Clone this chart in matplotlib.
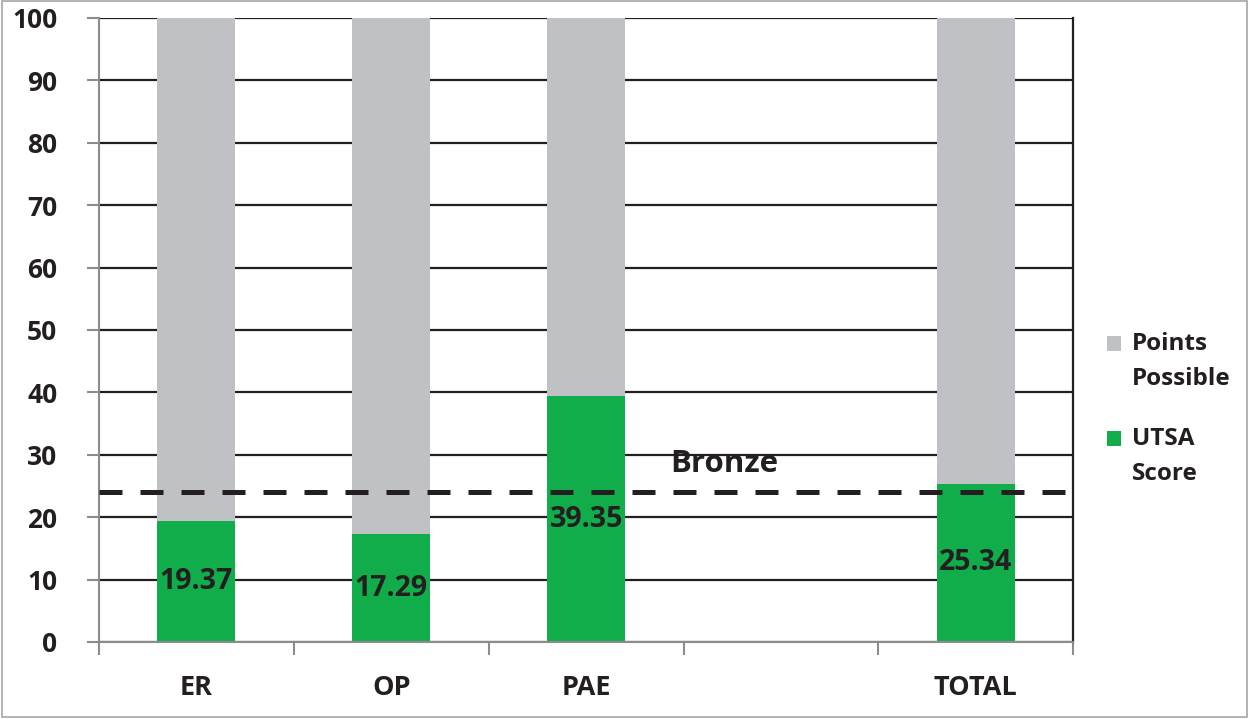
import numpy as np
import matplotlib.pyplot as plt
from matplotlib.patches import Rectangle

# Данные
categories = ['ER', 'OP', 'PAE', '', 'TOTAL']
utsa_score = [19.37, 17.29, 39.35, 0, 25.34]
points_possible = [100, 100, 100, 0, 100]
bronze_level = 24

plt.rcParams['font.family'] = ['Open Sans', 'DejaVu Sans']
plt.rcParams['font.weight'] = 'bold'

green = '#12ad4b'
grey = '#c0c1c4'
txt = '#231f20'

fig = plt.figure(figsize=(12.49, 7.19), dpi=100)
ax = fig.add_axes([0.0793, 0.1071, 0.7799, 0.8679])

x = np.arange(len(categories))
rest = [p - s for p, s in zip(points_possible, utsa_score)]
mask = [p > 0 for p in points_possible]
xs = x[mask]
sc = np.array(utsa_score)[mask]
rs = np.array(rest)[mask]

ax.bar(xs, sc, width=0.4, color=green, label='UTSA\nScore', zorder=2)
ax.bar(xs, rs, width=0.4, bottom=sc, color=grey, label='Points\nPossible', zorder=2)

# Подписи значений
for xi, s in zip(xs, sc):
    ax.text(xi, s / 2, f'{s:.2f}', ha='center', va='center', fontsize=20.5,
            fontweight='bold', color=txt, zorder=4)

# Линия Bronze
ax.axhline(bronze_level, color='#231f20', lw=3.6, dashes=(4.6, 3.6), zorder=3)
ax.text(2.71, 28.6, 'Bronze', ha='center', va='center', fontsize=22.5,
        fontweight='bold', color=txt, zorder=4)

ax.set_xlim(-0.5, len(categories) - 0.5)
ax.set_ylim(0, 100)
ax.set_yticks(np.arange(0, 101, 10))
ax.yaxis.grid(True, color='#231f20', lw=1.6, zorder=1)
ax.set_axisbelow(True)

ax.set_xticks(x)
ax.set_xticklabels(categories)
ax.set_xticks(np.arange(-0.5, len(categories)), minor=True)
ax.tick_params(axis='x', which='major', length=0, pad=24, labelsize=19.5, labelcolor=txt)
ax.tick_params(axis='x', which='minor', length=9, width=1.5, color='#8c8c8c')
ax.tick_params(axis='y', length=9, width=1.5, color='#8c8c8c', labelsize=19,
               labelcolor=txt, pad=21)
for lab in ax.get_xticklabels() + ax.get_yticklabels():
    lab.set_fontweight('bold')

ax.spines['top'].set_visible(False)
ax.spines['left'].set_color('#8c8c8c')
ax.spines['left'].set_linewidth(1.5)
ax.spines['bottom'].set_color('#8c8c8c')
ax.spines['bottom'].set_linewidth(1.5)
ax.spines['right'].set_color('#231f20')
ax.spines['right'].set_linewidth(1.6)

handles, labels = ax.get_legend_handles_labels()
leg = ax.legend(handles[::-1], labels[::-1], loc='center left', bbox_to_anchor=(1.012, 0.373),
                frameon=False, handlelength=0.6, handleheight=0.6, handletextpad=0.45,
                labelspacing=1.5, prop={'size': 17.5, 'weight': 'bold'})
for t in leg.get_texts():
    t.set_color(txt)
    t.set_linespacing(1.6)
# маркер легенды на уровне первой строки подписи
for h in leg.legend_handles:
    h.set_y(h.get_y() + 13.5)

fig.patches.append(Rectangle((0.002, 0.003), 0.996, 0.995, transform=fig.transFigure,
                             fill=False, edgecolor='#a6a6a6', lw=1.2))

fig.savefig('out.png', dpi=100)
